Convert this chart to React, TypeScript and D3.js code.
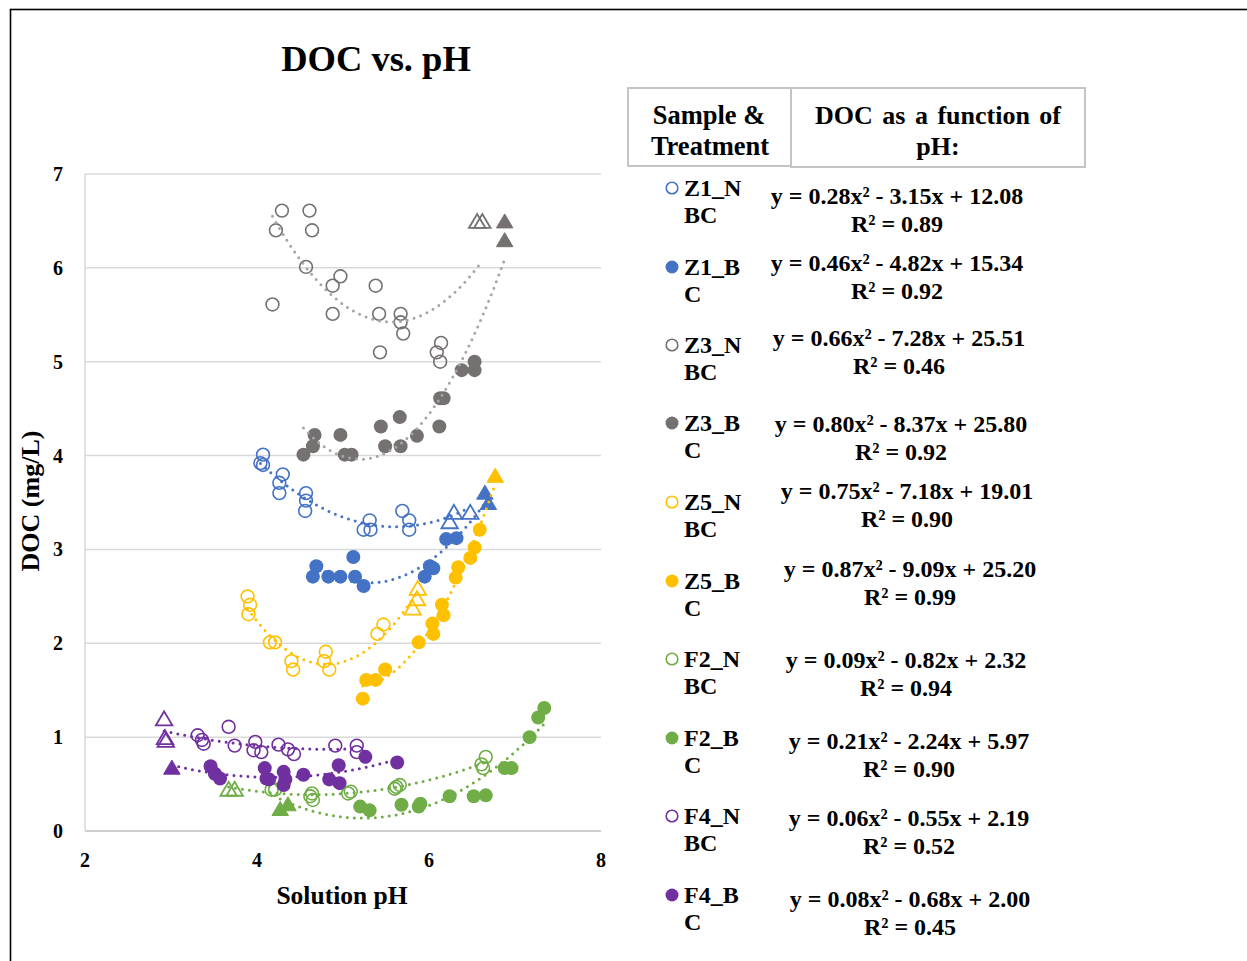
import React from "react";
import * as d3 from "d3";

// ---------- data ----------
const xTicks = [2, 4, 6, 8];
const yTicks = [0, 1, 2, 3, 4, 5, 6, 7];

const z1nPH = [4.07, 4.04, 4.07, 4.3, 4.26, 4.26, 4.57, 4.57, 4.56, 5.31, 5.24, 5.32, 5.69, 5.77, 5.77, 6.24, 6.29, 6.48];
const z1nDOC = [4.01, 3.92, 3.9, 3.8, 3.71, 3.6, 3.6, 3.52, 3.41, 3.31, 3.21, 3.21, 3.41, 3.31, 3.21, 3.3, 3.4, 3.4];
const z1nMark = ["c", "c", "c", "c", "c", "c", "c", "c", "c", "c", "c", "c", "c", "c", "c", "t", "t", "t"];

const z1bPH = [4.69, 4.65, 4.83, 4.97, 5.12, 5.14, 5.24, 5.95, 6.01, 6.05, 6.2, 6.32, 6.65, 6.69];
const z1bDOC = [2.82, 2.71, 2.71, 2.71, 2.92, 2.71, 2.61, 2.71, 2.82, 2.8, 3.11, 3.12, 3.61, 3.5];
const z1bMark = ["c", "c", "c", "c", "c", "c", "c", "c", "c", "c", "c", "c", "t", "t"];

const z3nPH = [4.29, 4.61, 4.22, 4.64, 4.18, 4.57, 4.97, 4.88, 4.88, 5.38, 5.42, 5.67, 5.67, 5.7, 5.43, 6.14, 6.09, 6.13, 6.56, 6.62];
const z3nDOC = [6.61, 6.61, 6.4, 6.4, 5.61, 6.01, 5.91, 5.81, 5.51, 5.81, 5.51, 5.51, 5.42, 5.3, 5.1, 5.2, 5.1, 5.0, 6.5, 6.5];
const z3nMark = ["c", "c", "c", "c", "c", "c", "c", "c", "c", "c", "c", "c", "c", "c", "c", "c", "c", "c", "t", "t"];

const z3bPH = [4.67, 4.65, 4.54, 4.97, 5.02, 5.1, 5.44, 5.66, 5.49, 5.67, 5.86, 6.12, 6.13, 6.17, 6.38, 6.53, 6.53, 6.88, 6.88];
const z3bDOC = [4.22, 4.1, 4.01, 4.22, 4.01, 4.01, 4.31, 4.41, 4.1, 4.1, 4.21, 4.31, 4.61, 4.61, 4.91, 5.0, 4.91, 6.5, 6.3];
const z3bMark = ["c", "c", "c", "c", "c", "c", "c", "c", "c", "c", "c", "c", "c", "c", "c", "c", "c", "t", "t"];

const z5nPH = [3.89, 3.92, 3.9, 4.15, 4.21, 4.4, 4.42, 4.8, 4.78, 4.84, 5.4, 5.47, 5.81, 5.86, 5.87];
const z5nDOC = [2.5, 2.41, 2.31, 2.01, 2.01, 1.81, 1.72, 1.91, 1.81, 1.72, 2.1, 2.2, 2.38, 2.48, 2.59];
const z5nMark = ["c", "c", "c", "c", "c", "c", "c", "c", "c", "c", "c", "c", "t", "t", "t"];

const z5bPH = [5.23, 5.27, 5.38, 5.49, 5.88, 6.05, 6.04, 6.17, 6.15, 6.31, 6.34, 6.48, 6.53, 6.59, 6.77];
const z5bDOC = [1.41, 1.61, 1.61, 1.72, 2.01, 2.1, 2.21, 2.3, 2.41, 2.7, 2.81, 2.91, 3.02, 3.21, 3.79];
const z5bMark = ["c", "c", "c", "c", "c", "c", "c", "c", "c", "c", "c", "c", "c", "c", "t"];

const f2nPH = [3.67, 3.74, 4.17, 4.21, 4.62, 4.65, 4.64, 5.09, 5.06, 5.6, 5.62, 5.66, 6.61, 6.63, 6.66];
const f2nDOC = [0.45, 0.45, 0.44, 0.44, 0.37, 0.33, 0.4, 0.42, 0.4, 0.45, 0.47, 0.49, 0.71, 0.67, 0.79];
const f2nMark = ["t", "t", "c", "c", "c", "c", "c", "c", "c", "c", "c", "c", "c", "c", "c"];

const f2bPH = [4.27, 4.36, 5.2, 5.31, 5.68, 5.88, 5.9, 6.24, 6.52, 6.66, 6.88, 6.96, 7.17, 7.27, 7.34];
const f2bDOC = [0.24, 0.29, 0.26, 0.22, 0.28, 0.26, 0.29, 0.37, 0.37, 0.38, 0.67, 0.67, 1.0, 1.21, 1.31];
const f2bMark = ["t", "t", "c", "c", "c", "c", "c", "c", "c", "c", "c", "c", "c", "c", "c"];

const f4nPH = [2.92, 2.93, 2.94, 3.31, 3.36, 3.38, 3.67, 3.74, 3.98, 3.96, 4.05, 4.25, 4.36, 4.43, 4.91, 5.16, 5.16];
const f4nDOC = [1.2, 1.0, 0.97, 1.02, 0.97, 0.93, 1.11, 0.91, 0.95, 0.86, 0.84, 0.92, 0.87, 0.82, 0.91, 0.91, 0.84];
const f4nMark = ["t", "t", "t", "c", "c", "c", "c", "c", "c", "c", "c", "c", "c", "c", "c", "c", "c"];

const f4bPH = [3.01, 3.46, 3.51, 3.57, 4.09, 4.11, 4.14, 4.31, 4.33, 4.31, 4.54, 4.84, 4.96, 4.95, 5.26, 5.63];
const f4bDOC = [0.68, 0.69, 0.61, 0.56, 0.67, 0.56, 0.55, 0.63, 0.55, 0.49, 0.6, 0.55, 0.51, 0.7, 0.79, 0.73];
const f4bMark = ["t", "c", "c", "c", "c", "c", "c", "c", "c", "c", "c", "c", "c", "c", "c", "c"];

const legendLine1 = ["Z1_N", "Z1_B", "Z3_N", "Z3_B", "Z5_N", "Z5_B", "F2_N", "F2_B", "F4_N", "F4_B"];
const legendLine2 = ["BC", "C", "BC", "C", "BC", "C", "BC", "C", "BC", "C"];
const equations = [
  "y = 0.28x² - 3.15x + 12.08",
  "y = 0.46x² - 4.82x + 15.34",
  "y = 0.66x² - 7.28x + 25.51",
  "y = 0.80x² - 8.37x + 25.80",
  "y = 0.75x² - 7.18x + 19.01",
  "y = 0.87x² - 9.09x + 25.20",
  "y = 0.09x² - 0.82x + 2.32",
  "y = 0.21x² - 2.24x + 5.97",
  "y = 0.06x² - 0.55x + 2.19",
  "y = 0.08x² - 0.68x + 2.00",
];
const rSquared = ["R² = 0.89", "R² = 0.92", "R² = 0.46", "R² = 0.92", "R² = 0.90", "R² = 0.99", "R² = 0.94", "R² = 0.90", "R² = 0.52", "R² = 0.45"];

// ---------- styles / layout ----------
const BLUE = "#4472C4";
const GRAY = "#767171";
const GRAY_TREND = "#A5A5A5";
const YELLOW = "#FFC000";
const GREEN = "#70AD47";
const PURPLE = "#7030A0";

const seriesList = [
  { ph: z1nPH, doc: z1nDOC, mark: z1nMark, color: BLUE, trend: BLUE, filled: false },
  { ph: z1bPH, doc: z1bDOC, mark: z1bMark, color: BLUE, trend: BLUE, filled: true },
  { ph: z3nPH, doc: z3nDOC, mark: z3nMark, color: GRAY, trend: GRAY_TREND, filled: false },
  { ph: z3bPH, doc: z3bDOC, mark: z3bMark, color: GRAY, trend: GRAY_TREND, filled: true },
  { ph: z5nPH, doc: z5nDOC, mark: z5nMark, color: YELLOW, trend: YELLOW, filled: false },
  { ph: z5bPH, doc: z5bDOC, mark: z5bMark, color: YELLOW, trend: YELLOW, filled: true },
  { ph: f2nPH, doc: f2nDOC, mark: f2nMark, color: GREEN, trend: GREEN, filled: false },
  { ph: f2bPH, doc: f2bDOC, mark: f2bMark, color: GREEN, trend: GREEN, filled: true },
  { ph: f4nPH, doc: f4nDOC, mark: f4nMark, color: PURPLE, trend: PURPLE, filled: false },
  { ph: f4bPH, doc: f4bDOC, mark: f4bMark, color: PURPLE, trend: PURPLE, filled: true },
];

const legendLabelY = [188, 267, 345, 423, 502, 581, 659, 738, 816, 895];
const legendEqY = [196, 263, 338, 424, 491, 569, 660, 741, 818, 899];
const legendEqX = [897, 897, 899, 901, 907, 910, 906, 909, 909, 910];

const FONT = "'Liberation Serif', 'Times New Roman', serif";

function fitQuad(xs: number[], ys: number[]): number[] {
  const s = [0, 0, 0, 0, 0];
  const t = [0, 0, 0];
  xs.forEach((x, i) => {
    for (let k = 0; k < 5; k++) s[k] += Math.pow(x, k);
    for (let k = 0; k < 3; k++) t[k] += ys[i] * Math.pow(x, k);
  });
  const A = [
    [s[0], s[1], s[2], t[0]],
    [s[1], s[2], s[3], t[1]],
    [s[2], s[3], s[4], t[2]],
  ];
  for (let c = 0; c < 3; c++) {
    let p = c;
    for (let r = c + 1; r < 3; r++) if (Math.abs(A[r][c]) > Math.abs(A[p][c])) p = r;
    [A[c], A[p]] = [A[p], A[c]];
    for (let r = 0; r < 3; r++) {
      if (r === c) continue;
      const f = A[r][c] / A[c][c];
      for (let k = c; k < 4; k++) A[r][k] -= f * A[c][k];
    }
  }
  return [A[0][3] / A[0][0], A[1][3] / A[1][1], A[2][3] / A[2][2]];
}

function triPath(cx: number, cy: number, w: number, h: number) {
  return `M${cx},${cy - h / 2}L${cx + w / 2},${cy + h / 2}L${cx - w / 2},${cy + h / 2}Z`;
}

export default function App() {
  const W = 1247;
  const H = 961;
  const x = d3.scaleLinear().domain([2, 8]).range([85, 601]);
  const y = d3.scaleLinear().domain([0, 7]).range([831, 174]);

  const trendLines = seriesList.map((s) => {
    const [c0, c1, c2] = fitQuad(s.ph, s.doc);
    const [lo, hi] = d3.extent(s.ph) as [number, number];
    const pts = d3.range(0, 101).map((i) => {
      const xv = lo + ((hi - lo) * i) / 100;
      return [xv, c0 + c1 * xv + c2 * xv * xv] as [number, number];
    });
    const line = d3
      .line<[number, number]>()
      .x((d) => x(d[0]))
      .y((d) => y(d[1]));
    return { d: line(pts) || "", color: s.trend };
  });

  return (
    <svg width={W} height={H} style={{ display: "block", position: "absolute", left: 0, top: 0 }} fontFamily={FONT}>
      <rect x={0} y={0} width={W} height={H} fill="#fff" />
      <rect x={10.5} y={9.5} width={1250} height={970} fill="none" stroke="#000" strokeWidth={1.6} />

      {/* title */}
      <text x={376} y={71} textAnchor="middle" fontSize={36.5} fontWeight="bold">
        DOC vs. pH
      </text>

      {/* gridlines */}
      {yTicks.map((t) => (
        <line key={"g" + t} x1={85} x2={601} y1={y(t)} y2={y(t)} stroke={t === 0 ? "#BFBFBF" : "#D9D9D9"} strokeWidth={1.5} />
      ))}
      <line x1={85} x2={85} y1={y(7)} y2={y(0)} stroke="#D9D9D9" strokeWidth={1.5} />

      {/* tick labels */}
      {yTicks.map((t) => (
        <text key={"yl" + t} x={58} y={y(t) + 7} textAnchor="middle" fontSize={20} fontWeight="bold">
          {t}
        </text>
      ))}
      {xTicks.map((t) => (
        <text key={"xl" + t} x={x(t)} y={867} textAnchor="middle" fontSize={20} fontWeight="bold">
          {t}
        </text>
      ))}

      {/* axis titles */}
      <text x={342} y={904} textAnchor="middle" fontSize={25.5} fontWeight="bold">
        Solution pH
      </text>
      <text transform="translate(39,501) rotate(-90)" textAnchor="middle" fontSize={26} fontWeight="bold">
        DOC (mg/L)
      </text>

      {/* markers */}
      {seriesList.map((s, si) => (
        <g key={"s" + si}>
          {s.ph.map((p, i) => {
            const cx = x(p);
            const cy = y(s.doc[i]);
            if (s.mark[i] === "t") {
              return (
                <path
                  key={i}
                  d={triPath(cx, cy, 16.5, 14)}
                  fill={s.filled ? s.color : "none"}
                  stroke={s.color}
                  strokeWidth={s.filled ? 1 : 1.8}
                  strokeLinejoin="miter"
                />
              );
            }
            return s.filled ? (
              <circle key={i} cx={cx} cy={cy} r={7} fill={s.color} />
            ) : (
              <circle key={i} cx={cx} cy={cy} r={6.4} fill="none" stroke={s.color} strokeWidth={1.6} />
            );
          })}
        </g>
      ))}

      {/* trendlines */}
      {trendLines.map((t, i) => (
        <path
          key={"t" + i}
          d={t.d}
          fill="none"
          stroke={t.color}
          strokeWidth={3}
          strokeDasharray="0 7"
          strokeLinecap="round"
        />
      ))}

      {/* legend header boxes */}
      <g>
        <rect x={628} y={88} width={163} height={78} fill="#fff" stroke="#C4C4C4" strokeWidth={2} />
        <rect x={791} y={88} width={294} height={79} fill="#fff" stroke="#C4C4C4" strokeWidth={2} />
        <text x={709} y={124} textAnchor="middle" fontSize={26.5} fontWeight="bold">
          Sample &amp;
        </text>
        <text x={710} y={155} textAnchor="middle" fontSize={26.5} fontWeight="bold">
          Treatment
        </text>
        <text x={938} y={124} textAnchor="middle" fontSize={26} fontWeight="bold" wordSpacing={3}>
          DOC as a function of
        </text>
        <text x={938} y={155} textAnchor="middle" fontSize={26} fontWeight="bold">
          pH:
        </text>
      </g>

      {/* legend rows */}
      {seriesList.map((s, i) => (
        <g key={"lg" + i}>
          {s.filled ? (
            <circle cx={672} cy={legendLabelY[i]} r={6.5} fill={s.color} />
          ) : (
            <circle cx={672} cy={legendLabelY[i]} r={5.8} fill="none" stroke={s.color} strokeWidth={1.6} />
          )}
          <text x={684} y={legendLabelY[i] + 8} fontSize={24} fontWeight="bold">
            {legendLine1[i]}
          </text>
          <text x={684} y={legendLabelY[i] + 35} fontSize={24} fontWeight="bold">
            {legendLine2[i]}
          </text>
          <text x={legendEqX[i]} y={legendEqY[i] + 8} textAnchor="middle" fontSize={24} fontWeight="bold">
            {equations[i]}
          </text>
          <text x={legendEqX[i]} y={legendEqY[i] + 36} textAnchor="middle" fontSize={24} fontWeight="bold">
            {rSquared[i]}
          </text>
        </g>
      ))}
    </svg>
  );
}
